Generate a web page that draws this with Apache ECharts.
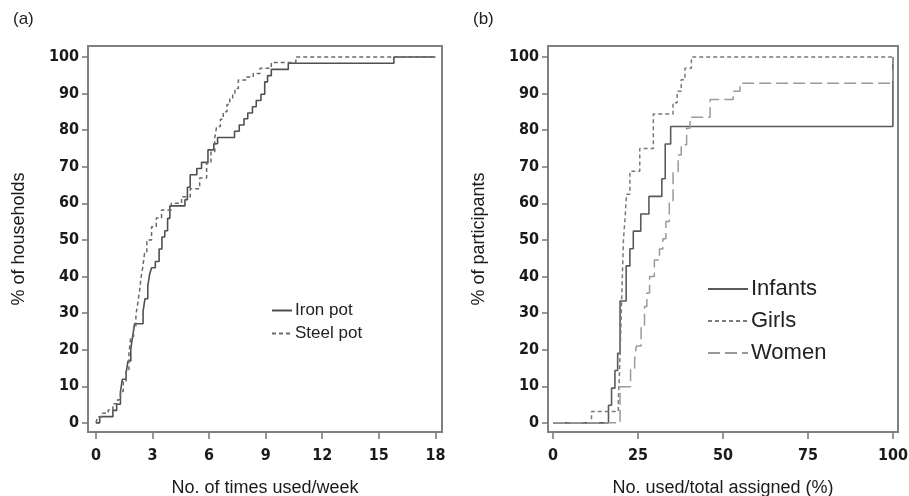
<!DOCTYPE html>
<html lang="en">
<head>
    <meta charset="UTF-8">
    <title>Cumulative use</title>
    <script src="https://cdnjs.cloudflare.com/ajax/libs/echarts/6.0.0/echarts.min.js"></script>
    <style>
        body { margin: 0; background: #fff; }
        #chart { width: 909px; height: 496px; }
    </style>
</head>
<body>
    <div id="chart"></div>
    <script>
        // panel (a): times used per week vs cumulative % of households
        const ironTimes = [0, 0.2, 0.9, 1.1, 1.3, 1.4, 1.6, 1.7, 1.85, 1.95, 2.05, 2.5, 2.6, 2.75, 2.85, 2.95, 3.15, 3.35, 3.5, 3.65, 3.8, 3.92, 4.72, 4.85, 5.0, 5.35, 5.6, 5.94, 6.25, 6.45, 7.35, 7.6, 7.85, 8.05, 8.3, 8.5, 8.75, 8.95, 9.1, 9.3, 10.2, 15.8, 18];
        const ironPct   = [0, 1.7, 3.4, 5.1, 8.5, 11.9, 13.6, 16.9, 20.3, 23.7, 27.1, 30.5, 33.9, 37.3, 40.7, 42.4, 44.1, 47.5, 50.8, 52.5, 55.9, 59.3, 61.0, 64.4, 67.8, 69.5, 71.2, 74.6, 76.3, 78.0, 79.7, 81.4, 83.1, 84.7, 86.4, 88.1, 89.8, 93.2, 94.9, 96.6, 98.3, 100, 100];
        const steelTimes = [0, 0.1, 0.35, 0.65, 0.9, 1.15, 1.3, 1.45, 1.6, 1.75, 1.85, 2.0, 2.12, 2.22, 2.32, 2.4, 2.49, 2.58, 2.7, 2.95, 3.2, 3.48, 4.0, 4.54, 5.0, 5.5, 5.87, 6.1, 6.3, 6.4, 6.6, 6.75, 6.95, 7.1, 7.25, 7.37, 7.55, 8.0, 8.34, 8.7, 9.3, 10.6, 18];
        const steelPct   = [0, 1.7, 2.6, 3.5, 5.2, 6.3, 8.6, 11.2, 14.5, 19, 23.6, 26.3, 29.5, 32.7, 36.3, 40, 42.7, 46.4, 50, 53.6, 56, 58.2, 60, 61.8, 64, 66.9, 71, 74, 77.8, 81, 83, 85, 87, 88.7, 90, 91.4, 93.7, 94.5, 95.5, 96.9, 98.5, 100, 100];

        // panel (b): % used of total assigned vs cumulative % of participants
        const infantsUsed = [0, 16.3, 17.2, 18.2, 19.0, 19.7, 21.5, 22.6, 23.6, 25.8, 28.2, 32, 33, 34.6, 100];
        const infantsPct  = [0, 4.8, 9.5, 14.3, 19, 33.3, 42.9, 47.6, 52.4, 57.1, 61.9, 66.7, 76.2, 81, 100];
        const girlsUsed = [0, 11.3, 19.2, 19.5, 19.8, 20.1, 20.4, 20.7, 21.2, 21.6, 22.6, 25.5, 29.5, 35.3, 36.5, 37.7, 38.8, 40.7, 100];
        const girlsPct  = [0, 3.1, 6.3, 12.5, 21.9, 31.3, 40.6, 50, 56.3, 62.5, 68.8, 75, 84.4, 87.5, 90.6, 93.8, 96.9, 100, 100];
        const womenUsed = [0, 19.7, 22.8, 24.0, 24.5, 25.9, 26.9, 27.6, 28.4, 29.8, 31.3, 32.3, 33.2, 34.2, 35.3, 36.8, 37.7, 39.3, 40.3, 46.2, 53, 55, 100];
        const womenPct  = [0, 9.9, 14.5, 17.5, 21, 26.3, 31.8, 35.5, 40, 44.5, 47.5, 50.3, 55, 60.5, 68.7, 73.2, 76, 80.5, 83.5, 88.4, 90.6, 92.8, 100];

        const ticksA = [0, 3, 6, 9, 12, 15, 18];
        const ticksB = [0, 25, 50, 75, 100];
        const ticksY = [0, 10, 20, 30, 40, 50, 60, 70, 80, 90, 100];

        const pair = (xs, ys) => xs.map((x, i) => [x, ys[i]]);

        const tickFont = {
            fontFamily: '"Liberation Sans Narrow", "DejaVu Sans Condensed", sans-serif',
            fontWeight: 'bold',
            fontSize: 16,
            color: '#1a1a1a'
        };
        const titleFont = {
            fontFamily: '"Liberation Sans", Arial, sans-serif',
            fontSize: 18,
            color: '#1a1a1a'
        };

        function xAxisFor(gridIndex, min, max, ticks, name) {
            return {
                type: 'value', gridIndex, min, max,
                name, nameLocation: 'middle', nameGap: 47, nameTextStyle: titleFont,
                splitLine: { show: false },
                axisLine: { show: false, onZero: false },
                axisTick: { show: true, inside: false, length: 7, customValues: ticks, lineStyle: { color: '#777', width: 1.5 } },
                axisLabel: Object.assign({ customValues: ticks, margin: 16 }, tickFont)
            };
        }
        function yAxisFor(gridIndex, name) {
            return {
                type: 'value', gridIndex, min: -2.5, max: 103,
                name, nameLocation: 'middle', nameGap: 60, nameTextStyle: titleFont,
                splitLine: { show: false },
                axisLine: { show: false, onZero: false },
                axisTick: { show: true, inside: false, length: 6, customValues: ticksY, lineStyle: { color: '#777', width: 1.5 } },
                axisLabel: Object.assign({ customValues: ticksY, margin: 9 }, tickFont)
            };
        }
        function stepSeries(name, data, xi, color, type, width) {
            return {
                name, type: 'line', step: 'end', data,
                xAxisIndex: xi, yAxisIndex: xi,
                symbol: 'none', animation: false,
                lineStyle: { color, width, type },
                itemStyle: { color }
            };
        }

        const chart = echarts.init(document.getElementById('chart'));
        chart.setOption({
            backgroundColor: '#fff',
            animation: false,
            title: [
                { text: '(a)', left: 8, top: 6, textStyle: { fontFamily: '"Liberation Sans", Arial, sans-serif', fontSize: 17, fontWeight: 'normal', color: '#222' } },
                { text: '(b)', left: 468, top: 6, textStyle: { fontFamily: '"Liberation Sans", Arial, sans-serif', fontSize: 17, fontWeight: 'normal', color: '#222' } }
            ],
            grid: [
                { left: 88, right: 467, top: 46, bottom: 64, outerBoundsMode: 'none', containLabel: false, show: true, borderColor: '#808080', borderWidth: 2 },
                { left: 548, right: 11, top: 46, bottom: 64, outerBoundsMode: 'none', containLabel: false, show: true, borderColor: '#808080', borderWidth: 2 }
            ],
            xAxis: [
                xAxisFor(0, -0.42, 18.35, ticksA, 'No. of times used/week'),
                xAxisFor(1, -1.5, 101.5, ticksB, 'No. used/total assigned (%)')
            ],
            yAxis: [
                yAxisFor(0, '% of households'),
                yAxisFor(1, '% of participants')
            ],
            legend: [
                {
                    data: ['Iron pot', 'Steel pot'], orient: 'vertical', left: 266, top: 297,
                    itemWidth: 20, itemHeight: 10, itemGap: 6,
                    itemStyle: { opacity: 0 },
                    textStyle: { fontFamily: '"Liberation Sans", Arial, sans-serif', fontSize: 17, color: '#222', padding: [0, 0, 0, -2] }
                },
                {
                    data: ['Infants', 'Girls', 'Women'], orient: 'vertical', left: 702, top: 273,
                    itemWidth: 40, itemHeight: 12, itemGap: 10,
                    itemStyle: { opacity: 0 },
                    textStyle: { fontFamily: '"Liberation Sans", Arial, sans-serif', fontSize: 22, color: '#222', padding: [0, 0, 0, -2] }
                }
            ],
            series: [
                stepSeries('Iron pot', pair(ironTimes, ironPct), 0, '#505050', 'solid', 1.6),
                stepSeries('Steel pot', pair(steelTimes, steelPct), 0, '#6a6a6a', [4, 3], 1.5),
                stepSeries('Infants', pair(infantsUsed, infantsPct), 1, '#5a5a5a', 'solid', 1.6),
                stepSeries('Girls', pair(girlsUsed, girlsPct), 1, '#7a7a7a', [4, 3], 1.5),
                stepSeries('Women', pair(womenUsed, womenPct), 1, '#9a9a9a', [12, 5], 1.5)
            ]
        });

        window.onresize = function() { chart.resize(); };
    </script>
</body>
</html>
